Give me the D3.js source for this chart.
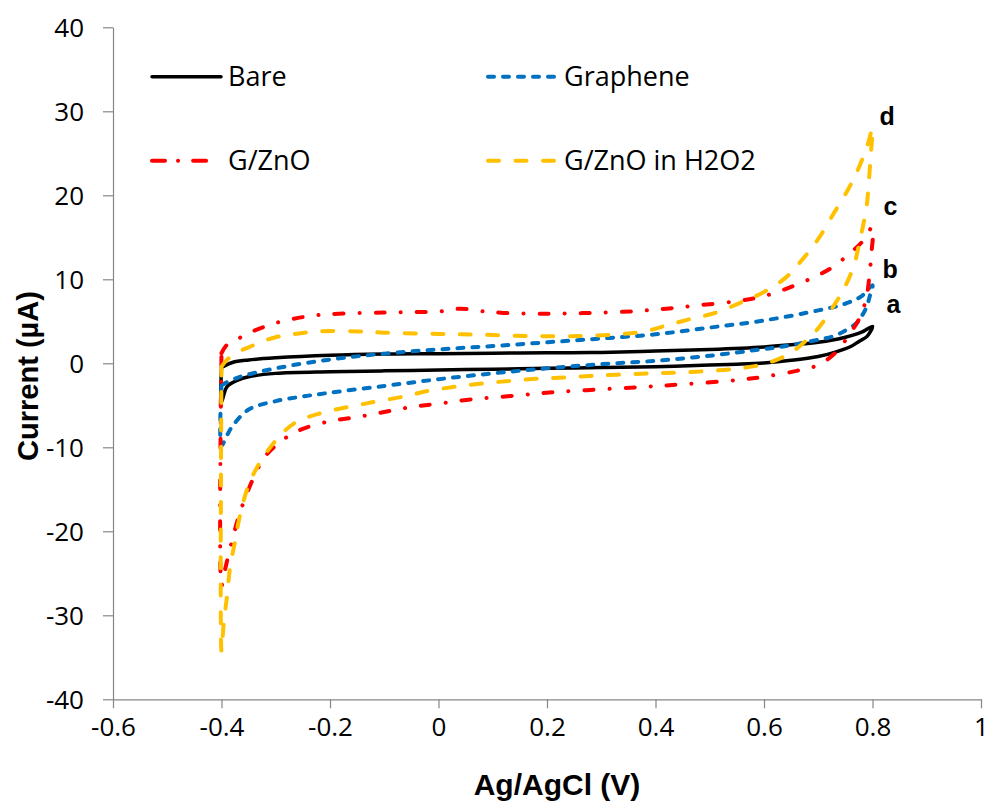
<!DOCTYPE html>
<html>
<head>
<meta charset="utf-8">
<script src="https://cdn.jsdelivr.net/npm/d3@7"></script>
<style>
  html, body { margin: 0; padding: 0; background: #fff; }
  svg { display: block; }
  .tick text { font-family: "Open Sans", "Noto Sans", sans-serif; font-size: 26px; fill: #000; }
</style>
</head>
<body>
<svg id="chart" width="992" height="803"></svg>
<script>
// Cyclic voltammograms: potential (V vs Ag/AgCl) and current (µA).
// Each loop runs the forward scan from -0.4 V to 0.8 V, then the reverse scan back.

const bareE = [-0.4, -0.38, -0.35, -0.3, -0.2, -0.1, 0.0, 0.1, 0.2, 0.3, 0.4, 0.5, 0.6, 0.65, 0.7, 0.75, 0.78, 0.8,
  0.79, 0.775, 0.76, 0.73, 0.7, 0.65, 0.6, 0.55, 0.5, 0.4, 0.3, 0.2, 0.1, 0.0, -0.1, -0.2, -0.3, -0.35, -0.37, -0.39, -0.4, -0.4];
const bareI = [-0.5, 0.1, 0.4, 0.65, 0.95, 1.1, 1.15, 1.2, 1.25, 1.3, 1.45, 1.65, 1.95, 2.2, 2.5, 3.1, 3.7, 4.4,
  3.2, 2.6, 2.0, 1.3, 0.8, 0.35, 0.05, -0.1, -0.2, -0.4, -0.5, -0.6, -0.7, -0.8, -0.9, -1.0, -1.2, -1.6, -2.0, -2.8, -4.6, -0.5];

const grapheneE = [-0.4, -0.37, -0.3, -0.2, -0.1, 0.0, 0.1, 0.2, 0.3, 0.4, 0.5, 0.6, 0.7, 0.75, 0.78, 0.8,
  0.795, 0.789, 0.78, 0.771, 0.75, 0.727, 0.7, 0.635, 0.6, 0.5, 0.4, 0.3, 0.2, 0.1, 0.0, -0.1, -0.2, -0.25, -0.3, -0.35, -0.38, -0.39, -0.4, -0.4];
const grapheneI = [-2.6, -1.7, -0.6, 0.45, 1.15, 1.65, 2.05, 2.5, 2.95, 3.45, 4.25, 5.1, 6.3, 7.1, 8.0, 9.3,
  8.0, 6.7, 5.6, 4.8, 3.9, 3.2, 2.8, 2.0, 1.7, 0.9, 0.3, -0.1, -0.6, -1.2, -1.9, -2.7, -3.5, -3.95, -4.5, -5.5, -7.5, -8.6, -9.8, -2.6];

const gznoE = [-0.4, -0.39, -0.37, -0.35, -0.3, -0.25, -0.2, -0.1, -0.05, 0.0, 0.04, 0.08, 0.12, 0.2, 0.28, 0.36, 0.42, 0.48, 0.55, 0.6, 0.65, 0.7, 0.73, 0.76, 0.78, 0.8,
  0.798, 0.795, 0.789, 0.777, 0.759, 0.734, 0.7, 0.66, 0.6, 0.55, 0.45, 0.38, 0.3, 0.22, 0.15, 0.06, 0.0, -0.05, -0.1, -0.15, -0.2, -0.25, -0.28, -0.3, -0.32, -0.335, -0.355, -0.37, -0.38, -0.39, -0.395, -0.4, -0.4];
const gznoI = [1.2, 2.2, 2.9, 3.6, 4.8, 5.5, 5.85, 6.05, 6.1, 6.15, 6.5, 6.2, 6.0, 5.9, 6.0, 6.2, 6.5, 6.9, 7.4, 8.0, 9.1, 10.5, 11.6, 13.2, 14.4, 16.2,
  13.1, 10.9, 7.9, 5.5, 3.6, 1.4, -0.2, -0.9, -1.6, -2.0, -2.5, -2.8, -3.1, -3.4, -3.8, -4.3, -4.8, -5.2, -5.8, -6.4, -6.9, -7.8, -8.8, -9.8, -11.1, -12.8, -15.8, -18.6, -21.0, -23.6, -25.0, -26.5, 1.2];

const h2o2E = [-0.4, -0.39, -0.375, -0.35, -0.325, -0.3, -0.275, -0.22, -0.15, -0.1, 0.0, 0.08, 0.17, 0.26, 0.33, 0.38, 0.42, 0.46, 0.51, 0.556, 0.6, 0.64, 0.67, 0.7, 0.73, 0.755, 0.77, 0.79, 0.8,
  0.797, 0.793, 0.789, 0.777, 0.765, 0.746, 0.727, 0.703, 0.679, 0.648, 0.605, 0.556, 0.5, 0.44, 0.39, 0.33, 0.28, 0.23, 0.18, 0.13, 0.08, 0.03, -0.02, -0.06, -0.135, -0.215, -0.265, -0.3, -0.33, -0.35, -0.366, -0.375, -0.384, -0.39, -0.396, -0.4, -0.4];
const h2o2I = [-0.4, 0.4, 1.2, 1.9, 2.6, 3.1, 3.4, 3.8, 3.8, 3.65, 3.5, 3.4, 3.25, 3.25, 3.45, 3.8, 4.5, 5.2, 6.0, 7.2, 8.5, 10.2, 12.3, 14.8, 18.0, 20.7, 22.6, 25.8, 28.0,
  25.0, 21.4, 18.6, 14.7, 11.5, 8.7, 6.7, 4.4, 2.8, 1.2, 0.0, -0.6, -0.9, -1.1, -1.2, -1.35, -1.5, -1.7, -1.85, -2.1, -2.4, -2.8, -3.3, -3.9, -4.8, -5.9, -7.1, -9.2, -11.9, -14.5, -18.1, -21.2, -24.2, -27.8, -31.0, -34.3, -0.4];

const seriesNames = ["Bare", "Graphene", "G/ZnO", "G/ZnO in H2O2"];
const seriesE = [bareE, grapheneE, gznoE, h2o2E];
const seriesI = [bareI, grapheneI, gznoI, h2o2I];
const curveLetters = ["a", "b", "c", "d"];
const letterI = [6.0, 10.2, 17.6, 28.4];

const xTicks = [-0.6, -0.4, -0.2, 0, 0.2, 0.4, 0.6, 0.8, 1];
const xTickLabels = ["-0.6", "-0.4", "-0.2", "0", "0.2", "0.4", "0.6", "0.8", "1"];
const yTicks = [-40, -30, -20, -10, 0, 10, 20, 30, 40];
const yTickLabels = ["-40", "-30", "-20", "-10", "0", "10", "20", "30", "40"];

// Line appearance per series
const colors = ["#000000", "#0070C0", "#FF0000", "#FFC000"];
const dashes = [null, "6,9", "9,16,0.1,16", "11,16.5"];
const widths = [3.5, 4, 4, 4];

const svg = d3.select("#chart");
const margin = { left: 113, top: 27.3, right: 11, bottom: 103.7 };
const W = 992 - margin.left - margin.right;
const H = 803 - margin.top - margin.bottom;

const x = d3.scaleLinear().domain([-0.6, 1]).range([0, W]);
const y = d3.scaleLinear().domain([-40, 40]).range([H, 0]);

const g = svg.append("g").attr("transform", `translate(${margin.left},${margin.top})`);

// Axes (hyphen-minus labels)
const xAxis = g.append("g").attr("transform", `translate(0,${H})`)
  .call(d3.axisBottom(x).tickValues(xTicks).tickFormat((d, i) => xTickLabels[i])
    .tickSizeInner(9).tickSizeOuter(0).tickPadding(23));
const yAxis = g.append("g")
  .call(d3.axisLeft(y).tickValues(yTicks).tickFormat((d, i) => yTickLabels[i])
    .tickSizeInner(10).tickSizeOuter(0).tickPadding(19));
[xAxis, yAxis].forEach(a => {
  a.select(".domain").attr("stroke", "#868686").attr("stroke-width", 1.2);
  a.selectAll(".tick line").attr("stroke", "#868686").attr("stroke-width", 1.2);
});
xAxis.selectAll(".tick text").attr("dy", "0.2em");
yAxis.selectAll(".tick text").attr("dy", "0.36em");

// Curves
const line = d3.line()
  .x(d => x(d[0]))
  .y(d => y(d[1]))
  .curve(d3.curveCatmullRom.alpha(0.5));

seriesNames.forEach((name, k) => {
  const pts = seriesE[k].map((e, i) => [e, seriesI[k][i]]);
  g.append("path")
    .datum(pts)
    .attr("fill", "none")
    .attr("stroke", colors[k])
    .attr("stroke-width", widths[k])
    .attr("stroke-linecap", "round")
    .attr("stroke-linejoin", "round")
    .attr("stroke-dasharray", dashes[k])
    .attr("d", line);
});

// Curve letters beside the anodic ends
g.selectAll("text.letter")
  .data(curveLetters)
  .join("text")
  .attr("class", "letter")
  .attr("x", (d, i) => x(0.8) + [14, 10, 11, 7][i])
  .attr("y", (d, i) => y(letterI[i]))
  .attr("font-family", "'Liberation Sans', Arial, sans-serif")
  .attr("font-weight", "bold")
  .attr("font-size", 25)
  .attr("fill", "#000")
  .text(d => d);

// Legend: two columns, two rows
const legendPos = [[152, 76.7], [488, 76.7], [152, 160.7], [488, 160.7]];
seriesNames.forEach((name, k) => {
  const [lx, ly] = legendPos[k];
  const len = k === 2 ? 58 : 69;
  svg.append("line")
    .attr("x1", lx).attr("x2", lx + len)
    .attr("y1", ly).attr("y2", ly)
    .attr("stroke", colors[k])
    .attr("stroke-width", widths[k])
    .attr("stroke-linecap", "round")
    .attr("stroke-dasharray", k === 2 ? "13,13,0.1,15" : dashes[k]);
  svg.append("text")
    .attr("x", lx + 76)
    .attr("y", ly + 9.5)
    .attr("font-family", "'Open Sans', 'Noto Sans', sans-serif")
    .attr("font-size", 27)
    .attr("fill", "#000")
    .text(name);
});

// Axis titles
svg.append("text")
  .attr("x", 557)
  .attr("y", 795)
  .attr("text-anchor", "middle")
  .attr("font-family", "'Liberation Sans', Arial, sans-serif")
  .attr("font-weight", "bold")
  .attr("font-size", 30)
  .attr("fill", "#000")
  .text("Ag/AgCl (V)");

svg.append("text")
  .attr("transform", "translate(38,376) rotate(-90)")
  .attr("text-anchor", "middle")
  .attr("font-family", "'Liberation Sans', Arial, sans-serif")
  .attr("font-weight", "bold")
  .attr("font-size", 29)
  .attr("fill", "#000")
  .text("Current (µA)");
</script>
</body>
</html>
